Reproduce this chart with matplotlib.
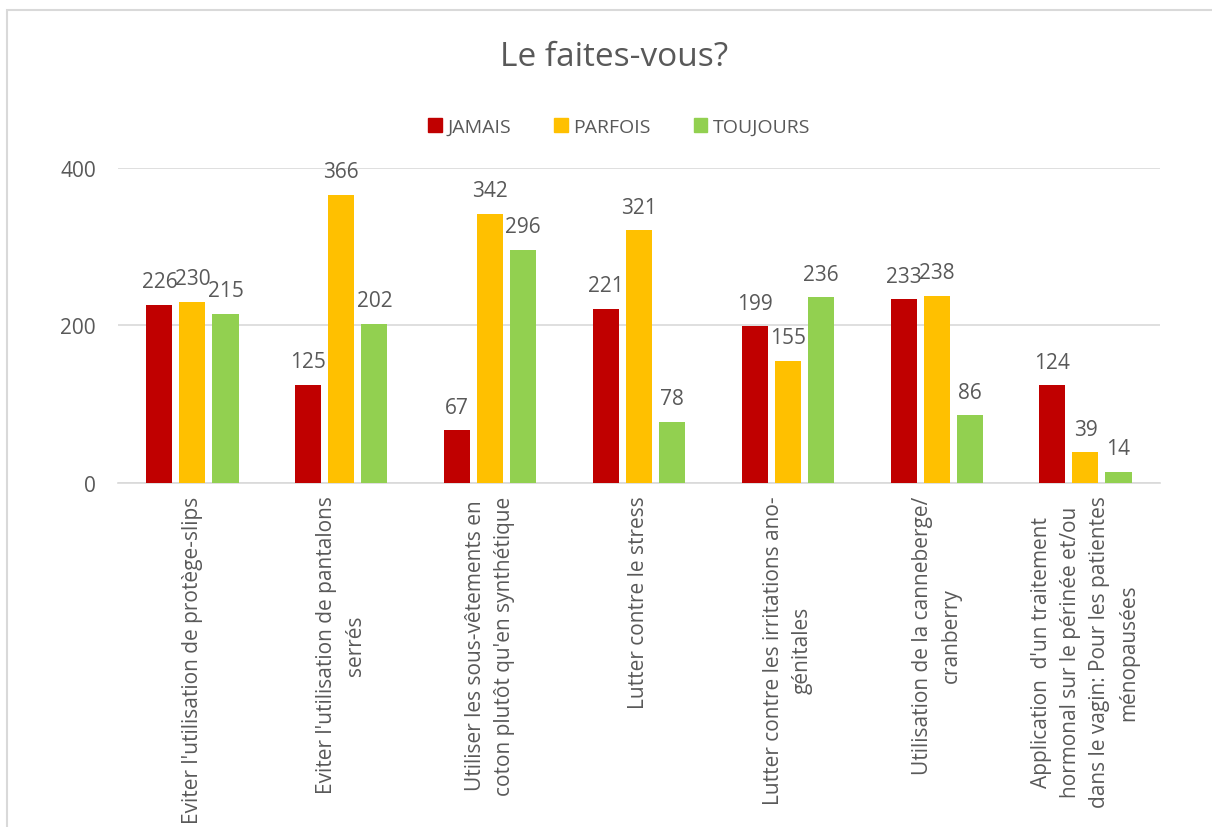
import matplotlib.pyplot as plt
import matplotlib.patches as mpatches
import numpy as np

plt.rcParams['font.family'] = ['Open Sans', 'DejaVu Sans']

categories = [
    "Eviter l'utilisation de protège-slips",
    "Eviter l'utilisation de pantalons\nserrés",
    "Utiliser les sous-vêtements en\ncoton plutôt qu'en synthétique",
    "Lutter contre le stress",
    "Lutter contre les irritations ano-\ngénitales",
    "Utilisation de la canneberge/\ncranberry",
    "Application  d'un traitement\nhormonal sur le périnée et/ou\ndans le vagin: Pour les patientes\nménopausées",
]
jamais = [226, 125, 67, 221, 199, 233, 124]
parfois = [230, 366, 342, 321, 155, 238, 39]
toujours = [215, 202, 296, 78, 236, 86, 14]

series = [("JAMAIS", jamais, "#C00000"),
          ("PARFOIS", parfois, "#FFC000"),
          ("TOUJOURS", toujours, "#92D050")]

gris = "#595959"

fig = plt.figure(figsize=(12.12, 8.28), dpi=100)
ax = fig.add_axes([0.0974, 0.4155, 0.8596, 0.3805])

# cadre du graphique (coupé à droite et en bas)
fig.patches.append(mpatches.Rectangle((7 / 1212, -0.1), 1.2, 0.9867 + 0.1,
                                      transform=fig.transFigure, fill=False,
                                      edgecolor="#D9D9D9", linewidth=1.5))

x = np.arange(len(categories))
largeur = 0.175
pas = 0.222
for i, (nom, vals, coul) in enumerate(series):
    pos = x + (i - 1) * pas
    barres = ax.bar(pos, vals, largeur, color=coul, label=nom, zorder=3)
    for b, v in zip(barres, vals):
        ax.annotate(str(v), (b.get_x() + b.get_width() / 2, v),
                    xytext=(0, 9), textcoords="offset points",
                    ha="center", va="bottom", fontsize=15, color=gris)

ax.set_xlim(-0.5, len(categories) - 0.5)
ax.set_ylim(0, 400)
ax.set_yticks([0, 200, 400])
ax.yaxis.grid(True, color="#D9D9D9", linewidth=1.2, zorder=0)
ax.tick_params(axis="y", length=0, labelsize=15, labelcolor=gris, pad=16)
ax.tick_params(axis="x", length=0, pad=9)
ax.set_xticks(x)
ax.set_xticklabels(categories, rotation=90, ha="center", va="top",
                   multialignment="center", fontsize=15, color=gris,
                   linespacing=1.5)
for s in ["top", "right", "left"]:
    ax.spines[s].set_visible(False)
ax.spines["bottom"].set_color("#D9D9D9")
ax.spines["bottom"].set_linewidth(1.2)

fig.text(0.507, 1 - 58 / 828, "Le faites-vous?", ha="center", va="center",
         fontsize=24, color=gris)

handles = [mpatches.Patch(color=c, label=n) for n, _, c in series]
fig.legend(handles=handles, loc="center", bbox_to_anchor=(0.511, 1 - 128 / 828),
           ncol=3, frameon=False, fontsize=14, handlelength=0.7,
           handleheight=0.7, handletextpad=0.3, columnspacing=2.2,
           labelcolor=gris)

fig.savefig("out.png", dpi=100)
